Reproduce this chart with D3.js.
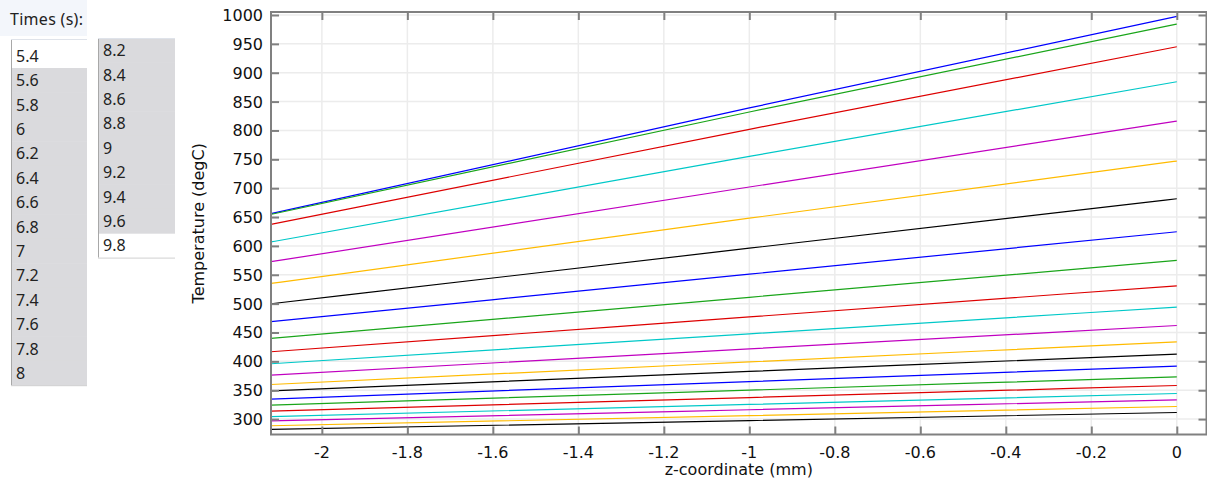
<!DOCTYPE html>
<html>
<head>
<meta charset="utf-8">
<script src="https://cdn.jsdelivr.net/npm/d3@7"></script>
<style>
  html, body { margin: 0; padding: 0; background: #fff; }
  svg { display: block; }
</style>
</head>
<body>
<svg id="chart" width="1207" height="481"></svg>
<script>
// Times available in the list box, and those plotted (highlighted)
const listTimes = [5.4, 5.6, 5.8, 6, 6.2, 6.4, 6.6, 6.8, 7, 7.2, 7.4, 7.6, 7.8, 8,
                   8.2, 8.4, 8.6, 8.8, 9, 9.2, 9.4, 9.6, 9.8];
const plottedTimes = [5.6, 5.8, 6, 6.2, 6.4, 6.6, 6.8, 7, 7.2, 7.4, 7.6, 7.8, 8,
                      8.2, 8.4, 8.6, 8.8, 9, 9.2, 9.4, 9.6];

// Sample positions along the cut line (mm)
const zCoords = [-2.12, -1.0, 0];

// Temperature (degC) at each z sample, one entry per plotted time
const tempAtStart = [655.7, 654.5, 637.2, 606.7, 572.5, 534.9, 499.7, 468.6, 439.6, 416.6, 395.8,
                     376.2, 359.9, 349.0, 334.6, 324.2, 313.8, 304.3, 296.9, 288.4, 282.0];
const tempAtMid   = [839.0, 832.0, 802.0, 755.0, 702.0, 648.0, 596.0, 551.0, 511.0, 477.0, 447.7,
                     421.6, 399.0, 382.6, 364.8, 350.1, 337.3, 325.4, 316.2, 306.0, 297.5];
const tempAtEnd   = [997.6, 984.4, 945.0, 884.4, 816.3, 747.0, 681.7, 624.5, 574.8, 530.9, 494.0,
                     462.1, 433.9, 412.6, 391.8, 373.2, 358.2, 344.3, 333.4, 321.8, 311.4];

// Axis ticks
const xTicks = [-2, -1.8, -1.6, -1.4, -1.2, -1, -0.8, -0.6, -0.4, -0.2, 0];
const yTicks = [300, 350, 400, 450, 500, 550, 600, 650, 700, 750, 800, 850, 900, 950, 1000];

// Line colour cycle
const palette = ["#0000ff", "#1aa51a", "#dd0000", "#00c8c8", "#c000c0", "#ffbb00", "#000000"];

const svg = d3.select("#chart");
const W = 1207, H = 481;
const plot = { left: 271, right: 1206.5, top: 12, bottom: 434.5 };

svg.append("rect").attr("width", W).attr("height", H).attr("fill", "#fff");

// ---------- list box of times ----------
const legend = svg.append("g").attr("font-family", "'Noto Sans', 'Open Sans', sans-serif")
  .attr("font-size", 16).attr("fill", "#222");

legend.append("rect").attr("x", 0).attr("y", 0).attr("width", 87).attr("height", 36).attr("fill", "#f3f6fb");
legend.append("text").attr("x", 10).attr("y", 25).attr("textLength", 73).text("Times (s):");

const rowH = 24.4;
const columns = [
  { items: listTimes.slice(0, 14), x: 11, w: 76, firstTop: 43.6, boxTop: 39 },
  { items: listTimes.slice(14), x: 98, w: 77, firstTop: 38, boxTop: 38 }
];
columns.forEach(col => {
  const g = legend.append("g");
  const bottom = col.firstTop + col.items.length * rowH;
  g.append("rect").attr("x", col.x).attr("y", col.boxTop).attr("width", col.w)
    .attr("height", bottom - col.boxTop).attr("fill", "#fff");
  col.items.forEach((t, i) => {
    const top = col.firstTop + i * rowH;
    const sel = plottedTimes.includes(t);
    if (sel) {
      g.append("rect").attr("x", col.x).attr("y", top).attr("width", col.w)
        .attr("height", rowH + 0.5).attr("fill", "#dadadd");
    }
    g.append("text").attr("x", col.x + 5).attr("y", top + rowH / 2 + 6).text(String(t));
  });
  g.append("line").attr("x1", col.x + 0.5).attr("x2", col.x + 0.5)
    .attr("y1", col.boxTop).attr("y2", bottom).attr("stroke", "#a8a8a8").attr("stroke-width", 1);
  g.append("line").attr("x1", col.x).attr("x2", col.x + col.w)
    .attr("y1", col.boxTop + 0.5).attr("y2", col.boxTop + 0.5).attr("stroke", "#dfe3ea");
  g.append("line").attr("x1", col.x).attr("x2", col.x + col.w)
    .attr("y1", bottom + 0.5).attr("y2", bottom + 0.5).attr("stroke", "#d0d0d0");
});

// ---------- scales ----------
const x = d3.scaleLinear().domain([-2.119, 0.0695]).range([plot.left, plot.right]);
const y = d3.scaleLinear().domain([273.3, 1005.2]).range([plot.bottom, plot.top]);

// grid
const grid = svg.append("g");
grid.selectAll(".gx").data(xTicks).join("line")
  .attr("x1", d => x(d)).attr("x2", d => x(d))
  .attr("y1", plot.top).attr("y2", plot.bottom)
  .attr("stroke", "#ececec").attr("stroke-width", 1.5);
grid.selectAll(".gy").data(yTicks).join("line")
  .attr("x1", plot.left).attr("x2", plot.right)
  .attr("y1", d => y(d)).attr("y2", d => y(d))
  .attr("stroke", "#ececec").attr("stroke-width", 1.5);

// ---------- curves ----------
svg.append("clipPath").attr("id", "plotclip").append("rect")
  .attr("x", plot.left).attr("y", plot.top)
  .attr("width", plot.right - plot.left).attr("height", plot.bottom - plot.top);

const series = plottedTimes.map((t, i) => ({
  time: t,
  color: palette[i % palette.length],
  pts: zCoords.map((z, k) => [z, [tempAtStart, tempAtMid, tempAtEnd][k][i]])
}));

const lineGen = d3.line().x(d => x(d[0])).y(d => y(d[1])).curve(d3.curveMonotoneX);
svg.append("g").attr("clip-path", "url(#plotclip)")
  .selectAll("path").data(series).join("path")
  .attr("d", d => lineGen(d.pts))
  .attr("fill", "none").attr("stroke", d => d.color).attr("stroke-width", 1.2);

// ---------- axes ----------
const axisColor = "#808080";
const tickLen = 8;
const axes = svg.append("g");

axes.append("rect").attr("x", plot.left).attr("y", plot.top)
  .attr("width", plot.right - plot.left).attr("height", plot.bottom - plot.top)
  .attr("fill", "none").attr("stroke", axisColor).attr("stroke-width", 2);

// inward ticks on all four sides
const xBottom = d3.axisBottom(x).tickValues(xTicks).tickSize(-tickLen).tickFormat("");
const xTop = d3.axisTop(x).tickValues(xTicks).tickSize(-tickLen).tickFormat("");
const yLeft = d3.axisLeft(y).tickValues(yTicks).tickSize(-tickLen).tickFormat("");
const yRight = d3.axisRight(y).tickValues(yTicks).tickSize(-tickLen).tickFormat("");
[
  [xBottom, `translate(0,${plot.bottom})`],
  [xTop, `translate(0,${plot.top})`],
  [yLeft, `translate(${plot.left},0)`],
  [yRight, `translate(${plot.right},0)`]
].forEach(([ax, tr]) => {
  const g = axes.append("g").attr("transform", tr).call(ax);
  g.select(".domain").remove();
  g.selectAll(".tick line").attr("stroke", axisColor).attr("stroke-width", 2);
});

// tick labels
const labelFont = "'DejaVu Sans', sans-serif";
axes.append("g").selectAll("text").data(xTicks).join("text")
  .attr("x", d => x(d)).attr("y", 458).attr("text-anchor", "middle")
  .attr("font-family", labelFont).attr("font-size", 16).attr("fill", "#111")
  .text(d => String(d));
axes.append("g").selectAll("text").data(yTicks).join("text")
  .attr("x", 263).attr("y", d => y(d) + 6).attr("text-anchor", "end")
  .attr("font-family", labelFont).attr("font-size", 16).attr("fill", "#111")
  .text(d => String(d));

// axis titles
svg.append("text").attr("x", (plot.left + plot.right) / 2).attr("y", 475)
  .attr("text-anchor", "middle").attr("font-family", labelFont).attr("font-size", 16)
  .attr("fill", "#111").text("z-coordinate (mm)");
svg.append("text")
  .attr("transform", `translate(204,${(plot.top + plot.bottom) / 2}) rotate(-90)`)
  .attr("text-anchor", "middle").attr("font-family", labelFont).attr("font-size", 16)
  .attr("fill", "#111").text("Temperature (degC)");
</script>
</body>
</html>
